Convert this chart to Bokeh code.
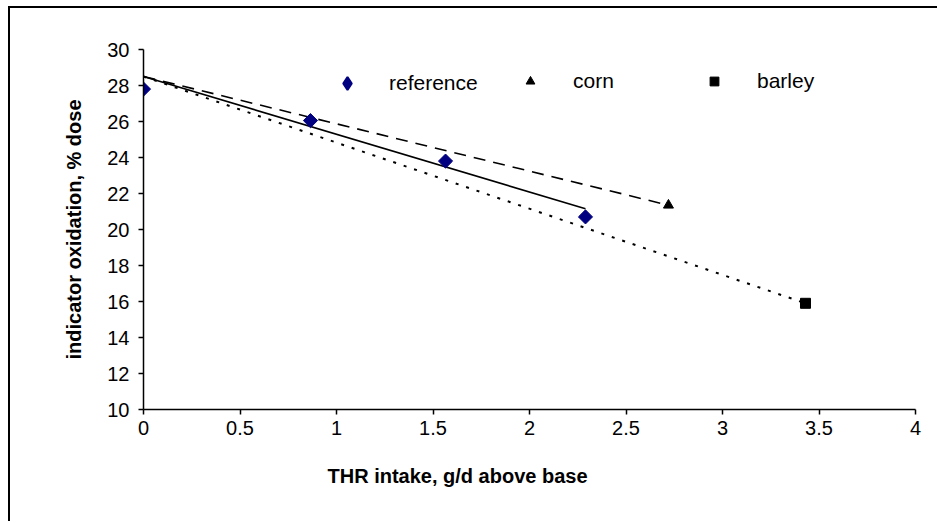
from bokeh.plotting import figure
from bokeh.models import Range1d, FixedTicker, Legend, LegendItem, Title
from bokeh.embed import file_html
from bokeh.resources import INLINE
import math

# data
ref_x = [0.0, 0.865, 1.565, 2.29]
ref_y = [27.8, 26.05, 23.8, 20.7]
corn_x = [2.72]
corn_y = [21.35]
barley_x = [3.43]
barley_y = [15.9]

# fitted lines (end points)
ref_line_x = [0.0, 2.29]
ref_line_y = [28.5, 21.15]
corn_line_x = [0.0, 2.72]
corn_line_y = [28.5, 21.35]
barley_line_x = [0.0, 3.43]
barley_line_y = [28.5, 15.9]

x_ticks = [0, 0.5, 1, 1.5, 2, 2.5, 3, 3.5, 4]
x_tick_labels = ["0", "0.5", "1", "1.5", "2", "2.5", "3", "3.5", "4"]
y_ticks = [10, 12, 14, 16, 18, 20, 22, 24, 26, 28, 30]

FONT = "Liberation Sans"

p = figure(width=929, height=515, output_backend="svg", toolbar_location=None,
           x_range=Range1d(0, 4), y_range=Range1d(10, 30),
           min_border_left=133, min_border_right=24, min_border_top=41, min_border_bottom=114,
           margin=(6, 0, 0, 8))
p.styles = {"border-left": "2px solid black", "border-top": "2px solid black"}
p.grid.visible = False
p.outline_line_color = None
p.background_fill_color = "white"
p.border_fill_color = "white"

for ax in (p.xaxis[0], p.yaxis[0]):
    ax.axis_line_color = "black"
    ax.axis_line_width = 1.5
    ax.major_tick_line_color = "black"
    ax.major_tick_line_width = 1.5
    ax.major_tick_out = 5
    ax.major_tick_in = 0
    ax.minor_tick_line_color = None
    ax.major_label_text_font = FONT
    ax.major_label_text_font_size = "20px"
    ax.major_label_text_color = "black"
    ax.axis_label_text_font = FONT
    ax.axis_label_text_font_size = "20px"
    ax.axis_label_text_font_style = "bold"
    ax.axis_label_text_color = "black"

p.xaxis.ticker = FixedTicker(ticks=x_ticks)
p.xaxis.major_label_overrides = {t: l for t, l in zip(x_ticks, x_tick_labels)}
p.yaxis.ticker = FixedTicker(ticks=y_ticks)
p.yaxis.axis_label = "indicator oxidation, % dose"
p.xaxis.major_label_standoff = 6
p.yaxis.major_label_standoff = 9
p.yaxis.axis_label_standoff = 19

# x-axis title, placed left of centre as in the original
p.add_layout(Title(text="THR intake, g/d above base", align="left", offset=184,
                   standoff=51, text_font=FONT, text_font_size="20px",
                   text_font_style="bold", text_color="black"), "below")

# lines
p.line(ref_line_x, ref_line_y, line_color="black", line_width=1.6)
p.line(corn_line_x, corn_line_y, line_color="black", line_width=1.6, line_dash="12 8")
p.line(barley_line_x, barley_line_y, line_color="black", line_width=2, line_dash="3 8")

# markers
p.scatter(ref_x, ref_y, marker="square", size=10, angle=math.pi / 4,
          fill_color="#000080", line_color="#000080")
r_corn = p.scatter(corn_x, corn_y, marker="triangle", size=10,
                   fill_color="black", line_color="black")
r_bar = p.scatter(barley_x, barley_y, marker="square", size=10,
                  fill_color="black", line_color="black")
# hidden renderer that only supplies the diamond legend swatch
r_ref_key = p.scatter(ref_x, ref_y, marker="diamond", size=15,
                      fill_color="#000080", line_color="#000080", line_width=2,
                      visible=False)

legend_common = dict(orientation="horizontal", padding=0, margin=0,
                     border_line_color=None, background_fill_alpha=0,
                     inactive_fill_alpha=0, label_text_font=FONT,
                     label_text_font_size="21px", label_text_color="black")

legend1 = Legend(items=[LegendItem(label="reference", renderers=[r_ref_key])],
                 location=(187, 310), glyph_width=34, glyph_height=32,
                 label_standoff=25, **legend_common)
legend2 = Legend(items=[LegendItem(label="corn", renderers=[r_corn]),
                        LegendItem(label="barley", renderers=[r_bar])],
                 location=(376, 316), glyph_width=22, glyph_height=22,
                 label_standoff=32, label_width=120, spacing=10, **legend_common)
p.add_layout(legend1, "center")
p.add_layout(legend2, "center")

open("out.html", "w").write(file_html(p, INLINE))
